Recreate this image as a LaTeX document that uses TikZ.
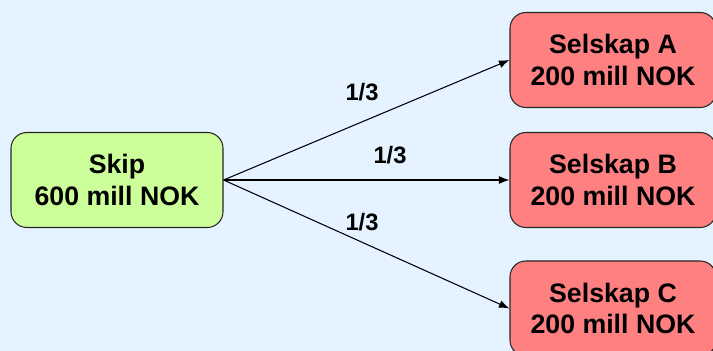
\documentclass[tikz,border=0pt]{standalone}
\usepackage{fontspec}
\setmainfont{Liberation Sans}
\usetikzlibrary{arrows.meta}

\definecolor{bgblue}{RGB}{228,243,255}
\definecolor{skipgreen}{RGB}{204,255,153}
\definecolor{selskapred}{RGB}{255,128,128}

\tikzstyle{skipbox}=[draw=black!85,fill=skipgreen,rounded corners=9pt,line width=0.6pt,
  minimum width=4.24cm,minimum height=1.9cm,align=center,font=\fontsize{15.2}{17.8}\selectfont\bfseries]
\tikzstyle{selskap}=[skipbox,fill=selskapred,minimum width=4.12cm]
\tikzstyle{share edge} = [draw,line width=0.6pt,-{Latex[length=6pt,width=4.5pt]}]
\tikzstyle{share}=[font=\fontsize{13.5}{16}\selectfont\bfseries]

\begin{document}
\begin{tikzpicture}
			\useasboundingbox (0,0) rectangle (14.26,7.02);
			\fill[bgblue] (0,0) rectangle (14.26,7.02);
			\node[skipbox] (skip) at (2.34,3.42) {Skip\\600 mill NOK};
			\node[selskap] (a) at (12.26,5.82) {Selskap A\\200 mill NOK};
			\node[selskap] (b) at (12.26,3.42) {Selskap B\\200 mill NOK};
			\node[selskap] (c) at (12.26,0.85) {Selskap C\\200 mill NOK};
			% the shares
			\node[share] (sa) at (7.24,5.18) {1/3};
			\node[share] (sb) at (7.80,3.92) {1/3};
			\node[share] (sc) at (7.24,2.58) {1/3};
			% connect skip with each selskap
			\foreach \dest in {a,b,c}
				\path[share edge] (skip.east) to (\dest.west);
\end{tikzpicture}
\end{document}
